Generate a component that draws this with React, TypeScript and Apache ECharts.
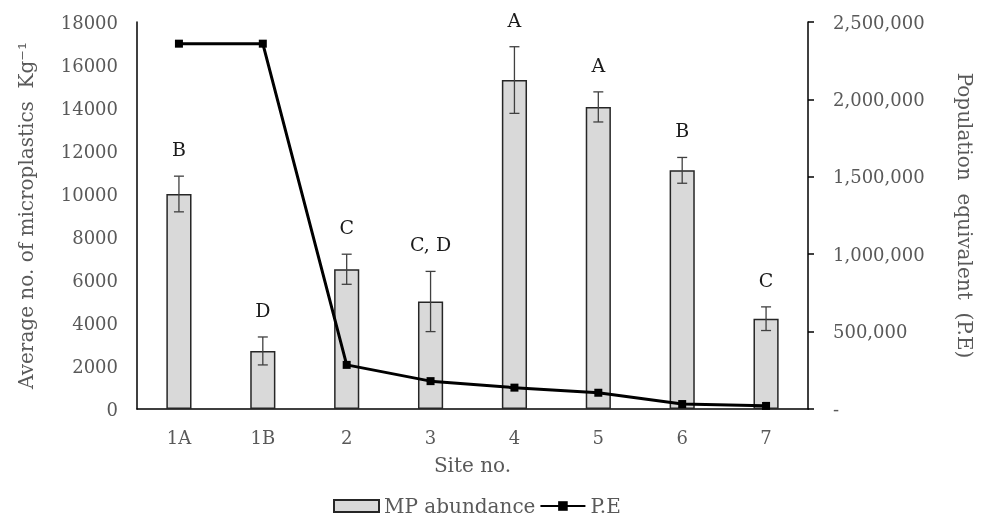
import React, { useEffect, useRef } from 'react';
import * as echarts from 'echarts';

const sites = ['1A', '1B', '2', '3', '4', '5', '6', '7'];
const mpAbundance = [10000, 2700, 6500, 5000, 15300, 14050, 11100, 4200];
const mpError = [830, 650, 700, 1400, 1550, 700, 600, 550];
const groupLetters = ['B', 'D', 'C', 'C, D', 'A', 'A', 'B', 'C'];
const populationEquivalent = [2360000, 2360000, 285000, 180000, 138000, 105000, 32000, 20000];

export default function App() {
  const ref = useRef<HTMLDivElement>(null);
  useEffect(() => {
    const chart = echarts.init(ref.current!, null, { renderer: 'svg' });
    const font = 'DejaVu Serif';
    const fs = 18;
    const nameFs = 20;
    const gray = '#595959';
    const errData = sites.map((_, i) => [i, mpAbundance[i] + mpError[i], mpAbundance[i] - mpError[i]]);
    const option = {
      animation: false,
      textStyle: { fontFamily: font },
      grid: { left: 137, right: 176, top: 22, bottom: 116 },
      legend: {
        bottom: 4,
        left: 328,
        itemGap: 4,
        itemWidth: 45,
        itemHeight: 12,
        textStyle: { fontFamily: font, fontSize: 20, color: gray },
        data: [{ name: 'MP abundance', icon: 'rect' }, { name: 'P.E' }],
      },
      xAxis: {
        type: 'category',
        data: sites,
        name: 'Site no.',
        nameLocation: 'middle',
        nameGap: 46,
        nameTextStyle: { fontFamily: font, fontSize: nameFs, color: gray },
        axisLine: { show: true, lineStyle: { color: '#000', width: 1.5 } },
        axisTick: { show: false },
        axisLabel: { fontFamily: font, fontSize: fs, color: gray, margin: 19 },
      },
      yAxis: [
        {
          type: 'value',
          min: 0,
          max: 18000,
          interval: 2000,
          name: 'Average no. of microplastics  Kg⁻¹',
          nameLocation: 'middle',
          nameGap: 101,
          nameTextStyle: { fontFamily: font, fontSize: nameFs, color: gray },
          axisLine: { show: true, lineStyle: { color: '#000', width: 1.5 } },
          axisTick: { show: false },
          splitLine: { show: false },
          axisLabel: {
            fontFamily: font,
            fontSize: fs,
            color: gray,
            margin: 19,
            formatter: (v: number) => String(v),
          },
        },
        {
          type: 'value',
          min: 0,
          max: 2500000,
          interval: 500000,
          position: 'right',
          name: 'Population  equivalent  (P.E)',
          nameLocation: 'middle',
          nameRotate: -90,
          nameGap: 147,
          nameTextStyle: { fontFamily: font, fontSize: nameFs, color: gray },
          axisLine: { show: true, lineStyle: { color: '#000', width: 1.5 } },
          axisTick: { show: true, length: 6, lineStyle: { color: '#000', width: 1.5 } },
          splitLine: { show: false },
          axisLabel: {
            fontFamily: font,
            fontSize: fs,
            color: gray,
            margin: 25,
            formatter: (v: number) => (v === 0 ? '-' : v.toLocaleString('en-US')),
          },
        },
      ],
      series: [
        {
          name: 'MP abundance',
          type: 'bar',
          yAxisIndex: 0,
          data: mpAbundance,
          barWidth: '30%',
          itemStyle: { color: '#d9d9d9', borderColor: '#262626', borderWidth: 1.5 },
          z: 2,
        },
        {
          name: 'errors',
          type: 'custom',
          yAxisIndex: 0,
          data: errData,
          encode: { x: 0, y: [1, 2] },
          z: 3,
          renderItem: (params: any, api: any) => {
            const idx = api.value(0);
            const hi = api.coord([idx, api.value(1)]);
            const lo = api.coord([idx, api.value(2)]);
            const cw = 5;
            const style = { stroke: '#404040', lineWidth: 1.3 };
            return {
              type: 'group',
              children: [
                { type: 'line', shape: { x1: hi[0], y1: hi[1], x2: lo[0], y2: lo[1] }, style },
                { type: 'line', shape: { x1: hi[0] - cw, y1: hi[1], x2: hi[0] + cw, y2: hi[1] }, style },
                { type: 'line', shape: { x1: lo[0] - cw, y1: lo[1], x2: lo[0] + cw, y2: lo[1] }, style },
                {
                  type: 'text',
                  x: hi[0],
                  y: hi[1] - 27,
                  style: {
                    text: groupLetters[params.dataIndex],
                    fontFamily: font,
                    fontSize: 19,
                    fill: '#1a1a1a',
                    align: 'center',
                    verticalAlign: 'middle',
                  },
                },
              ],
            };
          },
        },
        {
          name: 'P.E',
          type: 'line',
          yAxisIndex: 1,
          data: populationEquivalent,
          symbol: 'rect',
          symbolSize: 8,
          itemStyle: { color: '#000' },
          lineStyle: { color: '#000', width: 3 },
          z: 5,
        },
      ],
    };
    chart.setOption(option as any);
    return () => chart.dispose();
  }, []);
  return <div ref={ref} style={{ position: 'fixed', left: 0, top: 0, width: 984, height: 525 }} />;
}
